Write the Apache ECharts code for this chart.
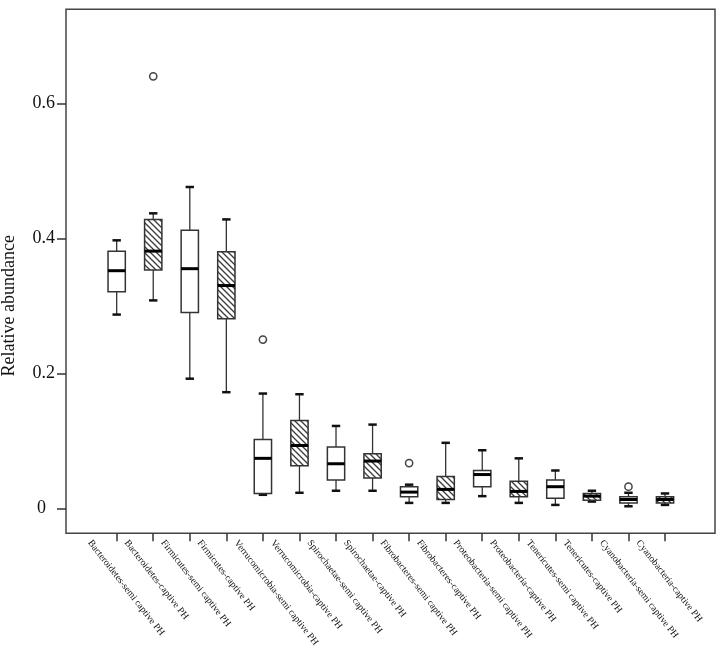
<!DOCTYPE html>
<html>
<head>
<meta charset="utf-8">
<script src="https://cdn.jsdelivr.net/npm/echarts@6/dist/echarts.min.js"></script>
<style>
html,body{margin:0;padding:0;background:#fff;}
#chart{width:726px;height:654px;}
</style>
</head>
<body>
<div id="chart"></div>
<script>
var categories = [
  "Bacteroidetes-semi captive PH", "Bacteroidetes-captive PH",
  "Firmicutes-semi captive PH", "Firmicutes-captive PH",
  "Verrucomicrobia-semi captive PH", "Verrucomicrobia-captive PH",
  "Spirochaetae-semi captive PH", "Spirochaetae-captive PH",
  "Fibrobacteres-semi captive PH", "Fibrobacteres-captive PH",
  "Proteobacteria-semi captive PH", "Proteobacteria-captive PH",
  "Tenericutes-semi captive PH", "Tenericutes-captive PH",
  "Cyanobacteria-semi captive PH", "Cyanobacteria-captive PH"
];
var minVals    = [0.287, 0.308, 0.192, 0.172, 0.020, 0.023, 0.026, 0.026, 0.008, 0.008, 0.018, 0.008, 0.005, 0.010, 0.003, 0.005];
var q1Vals     = [0.321, 0.353, 0.290, 0.281, 0.022, 0.063, 0.042, 0.045, 0.017, 0.013, 0.032, 0.017, 0.015, 0.012, 0.008, 0.008];
var medianVals = [0.352, 0.381, 0.355, 0.330, 0.074, 0.093, 0.066, 0.070, 0.024, 0.028, 0.050, 0.025, 0.032, 0.018, 0.013, 0.013];
var q3Vals     = [0.381, 0.428, 0.412, 0.380, 0.102, 0.130, 0.091, 0.081, 0.032, 0.047, 0.056, 0.040, 0.042, 0.022, 0.017, 0.017];
var maxVals    = [0.397, 0.437, 0.476, 0.428, 0.170, 0.169, 0.122, 0.124, 0.035, 0.097, 0.086, 0.074, 0.056, 0.026, 0.023, 0.022];
var hatched    = [0, 1, 0, 1, 0, 1, 0, 1, 0, 1, 0, 1, 0, 1, 0, 1];
var outlierCats = [1, 4, 8, 14];
var outlierVals = [0.640, 0.250, 0.067, 0.032];
var yTicks = [0, 0.2, 0.4, 0.6];

// hatch pattern
var pc = document.createElement('canvas');
pc.width = 6; pc.height = 6;
var g = pc.getContext('2d');
g.fillStyle = '#fff'; g.fillRect(0,0,6,6);
g.strokeStyle = '#3a3a3a'; g.lineWidth = 1.3;
g.beginPath();
g.moveTo(-1,-1); g.lineTo(7,7);
g.moveTo(-1,5); g.lineTo(1,7);
g.moveTo(5,-1); g.lineTo(7,1);
g.stroke();
var hatchPattern = { image: pc, repeat: 'repeat' };

var boxData = categories.map(function(c, i){
  return [i, minVals[i], q1Vals[i], medianVals[i], q3Vals[i], maxVals[i], hatched[i]];
});
var outData = outlierCats.map(function(c, i){ return [c, outlierVals[i]]; });

var FONT = '"Liberation Serif","Times New Roman",serif';
var chart = echarts.init(document.getElementById('chart'), null, {renderer:'canvas'});

function renderBox(params, api){
  var x = api.value(0);
  var pMin = api.coord([x, api.value(1)]);
  var pQ1 = api.coord([x, api.value(2)]);
  var pMed = api.coord([x, api.value(3)]);
  var pQ3 = api.coord([x, api.value(4)]);
  var pMax = api.coord([x, api.value(5)]);
  var h = api.value(6);
  var bw = api.size([1, 0])[0] * 0.473;
  var cx = pMin[0];
  var capW = 4.2;
  return {
    type: 'group',
    children: [
      {type:'line', shape:{x1:cx, y1:pMax[1], x2:cx, y2:pQ3[1]}, style:{stroke:'#333', lineWidth:1.3}},
      {type:'line', shape:{x1:cx, y1:pQ1[1], x2:cx, y2:pMin[1]}, style:{stroke:'#333', lineWidth:1.3}},
      {type:'line', shape:{x1:cx-capW, y1:pMax[1], x2:cx+capW, y2:pMax[1]}, style:{stroke:'#111', lineWidth:2.5}},
      {type:'line', shape:{x1:cx-capW, y1:pMin[1], x2:cx+capW, y2:pMin[1]}, style:{stroke:'#111', lineWidth:2.5}},
      {type:'rect', shape:{x:cx-bw/2, y:pQ3[1], width:bw, height:pQ1[1]-pQ3[1]},
        style:{fill: h ? hatchPattern : '#fff', stroke:'#333', lineWidth:1.5}},
      {type:'line', shape:{x1:cx-bw/2, y1:pMed[1], x2:cx+bw/2, y2:pMed[1]}, style:{stroke:'#000', lineWidth:3}}
    ]
  };
}

function renderOutlier(params, api){
  var p = api.coord([api.value(0), api.value(1)]);
  return {type:'circle', shape:{cx:p[0], cy:p[1], r:3.6}, style:{fill:'#fff', stroke:'#444', lineWidth:1.5}};
}

var option = {
  animation: false,
  backgroundColor: '#fff',
  grid: [
    {left: 66, right: 11, top: 9.3, bottom: 120.7, show: true, borderColor: '#444', borderWidth: 1.5, backgroundColor: 'transparent', outerBoundsMode: 'none', containLabel: false},
    {left: 98.4, right: 42.7, top: 103.3, bottom: 145.7, outerBoundsMode: 'none', containLabel: false},
    {left: 71.4, right: 69.7, top: 103.3, bottom: 120.7, outerBoundsMode: 'none', containLabel: false},
    {left: 98.4, right: 42.7, top: 103.3, bottom: 120.7, outerBoundsMode: 'none', containLabel: false}
  ],
  xAxis: [
    {gridIndex: 0, type: 'value', show: false, min: 0, max: 1},
    {gridIndex: 1, type: 'category', data: categories, show: false},
    {gridIndex: 2, type: 'category', data: categories,
      axisLine: {show: false}, axisTick: {show: false},
      axisLabel: {show: true, interval: 0, rotate: -52, align: 'left', verticalAlign: 'middle', margin: 8,
        fontFamily: FONT, fontSize: 9.6, color: '#111', hideOverlap: false},
      splitLine: {show: false}},
    {gridIndex: 3, type: 'category', data: categories,
      axisLine: {show: false},
      axisTick: {show: true, interval: 0, alignWithLabel: true, length: 8, lineStyle: {color: '#333', width: 1.5}},
      axisLabel: {show: false, interval: 0}, splitLine: {show: false}}
  ],
  yAxis: [
    {gridIndex: 0, type: 'value', show: false, min: 0, max: 1},
    {gridIndex: 1, type: 'value', min: 0, max: 0.6, interval: 0.2, offset: 32.4,
      axisLine: {show: false},
      axisTick: {show: true, length: 9, lineStyle: {color: '#333', width: 1.5}},
      splitLine: {show: false},
      axisLabel: {margin: 11, fontFamily: FONT, fontSize: 18, color: '#111',
        formatter: function(v){ return v === 0 ? '{z|0}' : v.toFixed(1); },
        rich: {z: {fontFamily: FONT, fontSize: 18, color: '#111', padding: [0, 9, 0, 0]}}},
      name: 'Relative abundance', nameLocation: 'middle', nameGap: 48,
      nameTextStyle: {fontFamily: FONT, fontSize: 18, color: '#111'}},
    {gridIndex: 2, type: 'value', show: false, min: 0, max: 0.6},
    {gridIndex: 3, type: 'value', show: false, min: 0, max: 0.6}
  ],
  series: [
    {type: 'custom', xAxisIndex: 1, yAxisIndex: 1, data: boxData, renderItem: renderBox, clip: false, z: 3},
    {type: 'custom', xAxisIndex: 1, yAxisIndex: 1, data: outData, renderItem: renderOutlier, clip: false, z: 4}
  ]
};
chart.setOption(option);
</script>
</body>
</html>
